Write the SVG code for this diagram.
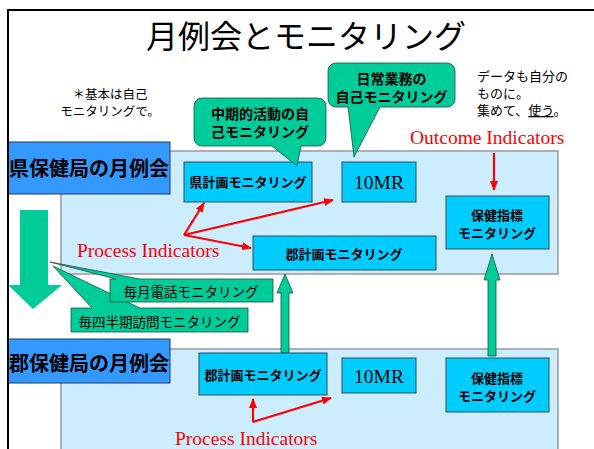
<svg xmlns="http://www.w3.org/2000/svg" width="594" height="449" viewBox="0 0 594 449">
<defs>
<style>
.jp{font-family:"Noto Sans CJK JP","Noto Sans CJK SC",sans-serif;fill:#000}
.b{font-weight:bold}
.mid{text-anchor:middle}
.serif{font-family:"Liberation Serif",serif}
.red{fill:#FF0000}
.panel{fill:#CCECFF;stroke:#999999;stroke-width:1.5}
.hdr{fill:#3399FF;stroke:#1F3A60;stroke-width:1}
.box{fill:#00CCFF;stroke:#2F4F5F;stroke-width:1}
.grn{fill:#00CC99;stroke:#1F4F3F;stroke-width:0.8}
.grn0{fill:#00CC99}
.rl{stroke:#FF0000;stroke-width:2.2;fill:none;marker-end:url(#ah)}
</style>
<marker id="ah" markerWidth="10" markerHeight="8" refX="9" refY="4" orient="auto" markerUnits="userSpaceOnUse">
<path d="M0,0 L10,4 L0,8 Z" fill="#FF0000"/>
</marker>
</defs>
<rect width="594" height="449" fill="#FFFFFF"/>

<g id="panel-prefecture"><rect class="panel" x="61" y="151" width="497" height="123"/></g>
<g id="panel-district"><rect class="panel" x="61" y="349" width="497" height="110"/></g>

<g id="hdr-prefecture"><rect class="hdr" x="8" y="142" width="162" height="52"/>
<text class="jp b mid" x="89" y="176" font-size="20">県保健局の月例会</text></g>
<g id="hdr-district"><rect class="hdr" x="8" y="339" width="162" height="44"/>
<text class="jp b mid" x="89" y="371" font-size="20">郡保健局の月例会</text></g>

<g id="connectors">
<polygon id="down-arrow" class="grn0" points="20,210 48,210 48,285 62,285 33,309 8,285 20,285"/>
<polygon class="grn" points="281,353 281,293 277,293 285,274 293,293 289,293 289,353"/>
<polygon class="grn" points="488,356 488,280 484,280 492,254 500,280 496,280 496,356"/>
<path class="rl" d="M184,235 L204,203"/>
<path class="rl" d="M184,235 L333,200"/>
<path class="rl" d="M184,235 L251,248"/>
<path class="rl" d="M494,153 L494,190"/>
<path class="rl" d="M253,422 L253,399"/>
<path class="rl" d="M253,422 L331,398"/>
</g>

<g id="callout-quarterly"><path class="grn" d="M71,308 L92,308 L53,266 L140,308 L248,308 L248,332 L71,332 Z"/>
<text class="jp mid" x="159.5" y="327" font-size="13.5">毎四半期訪問モニタリング</text></g>
<g id="callout-monthly"><path class="grn" d="M110,279 L116,279 L50,262 L140,279 L273,279 L273,302 L110,302 Z"/>
<text class="jp mid" x="191" y="297" font-size="13.5">毎月電話モニタリング</text></g>

<g id="box-pref-plan"><rect class="box" x="184" y="162" width="128" height="40"/>
<text class="jp b mid" x="248" y="187" font-size="13">県計画モニタリング</text></g>
<g id="box-10mr-1"><rect class="box" x="342" y="162" width="74" height="40"/>
<text class="serif mid" x="379" y="189" font-size="19.5">10MR</text></g>
<g id="box-health-1"><rect class="box" x="446" y="196" width="103" height="53"/>
<text class="jp b mid" x="497" y="220" font-size="13">保健指標</text>
<text class="jp b mid" x="497" y="238" font-size="13">モニタリング</text></g>
<g id="box-dist-plan-1"><rect class="box" x="253" y="236" width="183" height="34"/>
<text class="jp b mid" x="344" y="259" font-size="13">郡計画モニタリング</text></g>

<g id="box-dist-plan-2"><rect class="box" x="199" y="353" width="128" height="42"/>
<text class="jp b mid" x="263" y="380" font-size="13">郡計画モニタリング</text></g>
<g id="box-10mr-2"><rect class="box" x="342" y="358" width="74" height="35"/>
<text class="serif mid" x="379" y="383" font-size="19.5">10MR</text></g>
<g id="box-health-2"><rect class="box" x="446" y="358" width="103" height="54"/>
<text class="jp b mid" x="497" y="383" font-size="13">保健指標</text>
<text class="jp b mid" x="497" y="401" font-size="13">モニタリング</text></g>

<g id="callout-midterm"><path class="grn" d="M202,98 H318 A8,8 0 0 1 326,106 V138 A8,8 0 0 1 318,146 H301 L297,166 L272,146 H202 A8,8 0 0 1 194,138 V106 A8,8 0 0 1 202,98 Z"/>
<text class="jp b mid" x="260" y="119" font-size="14">中期的活動の自</text>
<text class="jp b mid" x="260" y="137" font-size="14">己モニタリング</text></g>
<g id="callout-daily"><path class="grn" d="M336,63 H447 A8,8 0 0 1 455,71 V99 A8,8 0 0 1 447,107 H380 L354,157 L348,107 H336 A8,8 0 0 1 328,99 V71 A8,8 0 0 1 336,63 Z"/>
<text class="jp b mid" x="391.5" y="84" font-size="14">日常業務の</text>
<text class="jp b mid" x="391.5" y="102" font-size="14">自己モニタリング</text></g>

<g id="labels">
<text class="jp mid" x="306" y="48" font-size="32">月例会とモニタリング</text>
<text class="jp mid" x="110" y="99" font-size="12.5">＊基本は自己</text>
<text class="jp mid" x="110" y="116" font-size="12.5">モニタリングで。</text>
<text class="jp" x="477" y="81" font-size="13">データも自分の</text>
<text class="jp" x="477" y="98" font-size="13">ものに。</text>
<text class="jp" x="477" y="115" font-size="13">集めて、<tspan text-decoration="underline">使う</tspan>。</text>
<text class="serif red" x="410" y="144" font-size="19.5">Outcome Indicators</text>
<text class="serif red" x="77" y="257" font-size="19.5">Process Indicators</text>
<text class="serif red" x="175" y="445" font-size="19.5">Process Indicators</text>
</g>

<g id="frame"><path d="M8,449 V10 H594" fill="none" stroke="#000" stroke-width="2"/></g>
</svg>
